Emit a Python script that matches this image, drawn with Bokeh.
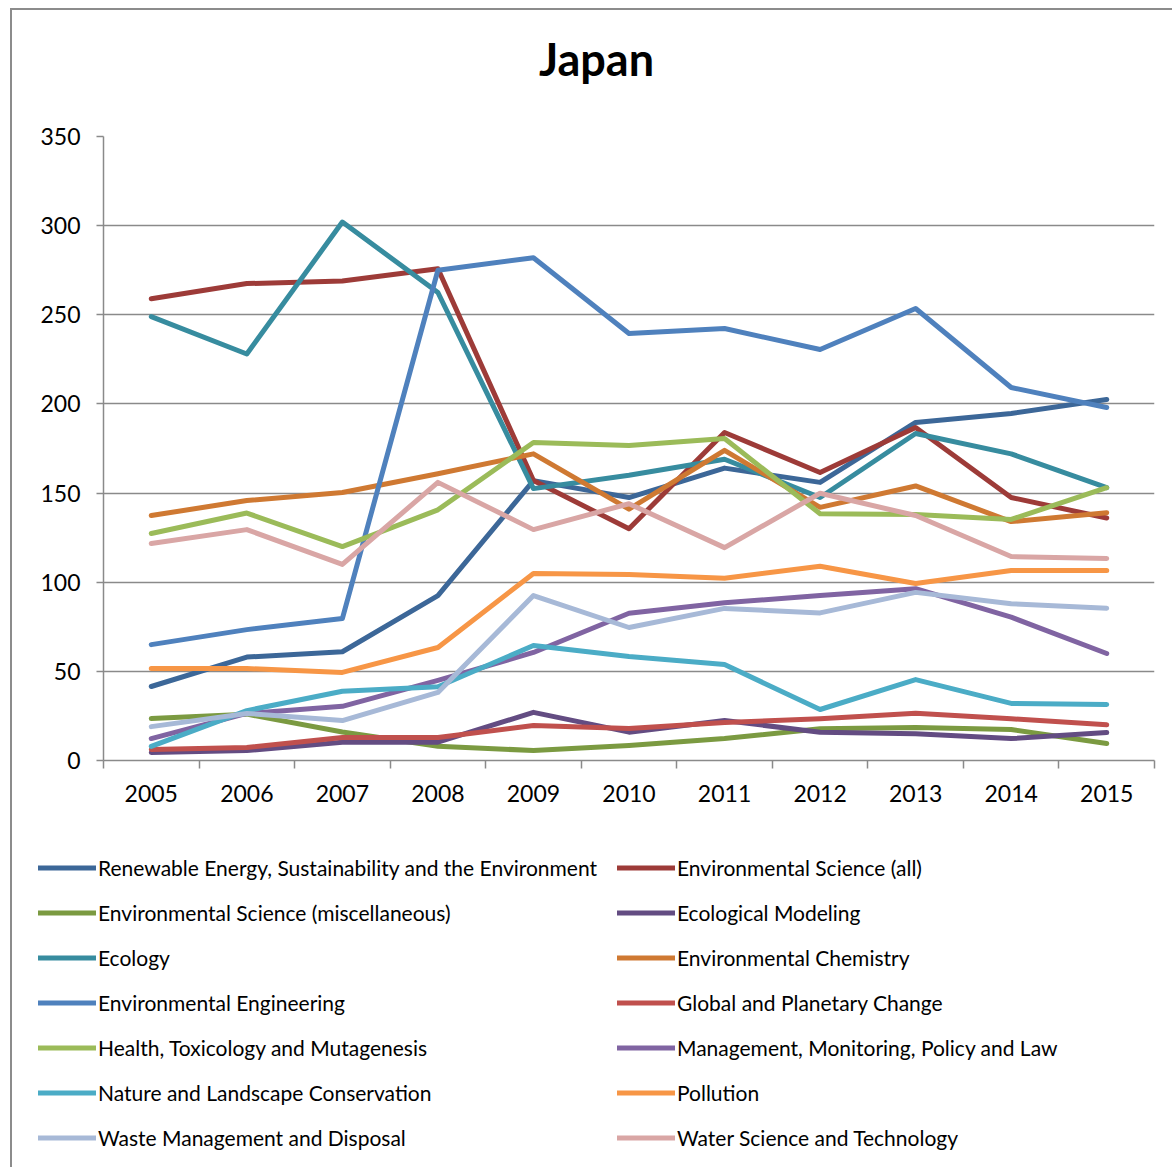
from bokeh.plotting import figure
from bokeh.models import (Range1d, FixedTicker, Legend, LegendItem, Label, ColumnDataSource)
from bokeh.embed import file_html
from bokeh.resources import INLINE

years = ["2005", "2006", "2007", "2008", "2009", "2010", "2011", "2012", "2013", "2014", "2015"]

renewable = [41.5, 58, 61, 92.5, 157, 147.5, 164, 156, 189.6, 194.6, 202.5]
env_all = [259, 267.5, 269, 275.8, 157, 130, 184, 161.5, 186.8, 147.5, 136]
env_misc = [23.5, 26, 16, 8, 5.6, 8.4, 12.3, 17.8, 18.5, 17.4, 9.5]
eco_model = [4.5, 5.6, 10.3, 10.3, 27, 15.9, 22.4, 15.9, 15, 12.3, 15.7]
ecology = [249, 228, 302, 262.5, 152.5, 160, 169, 147.5, 183.4, 172, 153]
env_chem = [137.4, 145.8, 150.3, 160.8, 172, 141, 174, 142, 154, 134, 139]
env_eng = [65, 73.4, 79.6, 275, 282, 239.5, 242.3, 230.5, 253.5, 209.2, 198]
global_change = [6.2, 7.3, 12.9, 12.9, 19.6, 17.9, 21.3, 23.4, 26.5, 23.4, 20]
health = [127.3, 138.8, 120, 140.6, 178.4, 176.7, 180.6, 138.4, 138, 135.2, 153]
management = [12.3, 26.4, 30.4, 44.9, 60.6, 82.6, 88.5, 92.5, 96.4, 80.4, 60]
nature = [7.9, 28, 38.8, 41.4, 64.5, 58.3, 53.8, 28.6, 45.4, 32, 31.4]
pollution = [51.6, 51.6, 49.4, 63.4, 104.9, 104.3, 102.2, 109, 99.3, 106.6, 106.6]
waste = [19, 26.4, 22.4, 38.2, 92.5, 74.6, 85.3, 82.8, 94.3, 87.9, 85.4]
water = [121.7, 129.5, 110, 156, 129.5, 144, 119.4, 149.9, 137.4, 114.4, 113.3]

series_names = [
    "Renewable Energy, Sustainability and the Environment",
    "Environmental Science (all)",
    "Environmental Science (miscellaneous)",
    "Ecological Modeling",
    "Ecology",
    "Environmental Chemistry",
    "Environmental Engineering",
    "Global and Planetary Change",
    "Health, Toxicology and Mutagenesis",
    "Management, Monitoring, Policy and Law",
    "Nature and Landscape Conservation",
    "Pollution",
    "Waste Management and Disposal",
    "Water Science and Technology",
]
series_values = [renewable, env_all, env_misc, eco_model, ecology, env_chem, env_eng,
                 global_change, health, management, nature, pollution, waste, water]
colors = ["#3C6798", "#9D3B38", "#7B9A41", "#634C82", "#378C9F", "#CF7932", "#4F81BD",
          "#C0504D", "#9BBB59", "#8064A2", "#4BACC6", "#F79646", "#A7B9D7", "#D9A6A5"]

FONT = "Lato"
GRID = "#8a8a8a"
BORDER = "2px solid #8c8c8c"
LW = 5

# ---- title strip (separate root) ----
tp = figure(width=1162, height=100, output_backend="svg", toolbar_location=None,
            x_axis_type=None, y_axis_type=None,
            min_border_left=0, min_border_right=0, min_border_top=0, min_border_bottom=0)
tp.outline_line_color = None
tp.grid.grid_line_color = None
tp.border_fill_color = "white"
tp.background_fill_color = "white"
tp.styles = {"margin-left": "10px", "margin-top": "8px",
             "border-left": BORDER, "border-top": BORDER}
tp.add_layout(Label(x=584, y=52, x_units="screen", y_units="screen", text="Japan",
                    text_align="center", text_baseline="alphabetic", text_font=FONT,
                    text_font_size="45px", text_font_style="bold", text_color="black"))

# ---- main chart ----
p = figure(width=1162, height=712, output_backend="svg", toolbar_location=None,
           x_range=Range1d(-0.5, len(years) - 0.5), y_range=Range1d(0, 350),
           min_border_left=91, min_border_right=20, min_border_top=28, min_border_bottom=60,
           title=None)
p.outline_line_color = None
p.background_fill_color = "white"
p.border_fill_color = "white"
p.styles = {"margin-left": "10px", "border-left": BORDER}

xs = list(range(len(years)))
sources = []
for vals, c in zip(series_values, colors):
    src = ColumnDataSource(dict(x=xs, y=vals))
    sources.append(src)
    p.line("x", "y", source=src, line_color=c, line_width=LW,
           line_cap="round", line_join="round")

# x axis
p.xaxis.ticker = FixedTicker(ticks=xs, minor_ticks=[i - 0.5 for i in range(len(years) + 1)])
p.xaxis.major_label_overrides = {i: y for i, y in enumerate(years)}
p.xaxis.major_tick_out = 0
p.xaxis.major_tick_in = 0
p.xaxis.minor_tick_out = 8
p.xaxis.minor_tick_in = 0
p.xaxis.minor_tick_line_color = GRID
p.xaxis.minor_tick_line_width = 1.5
p.xaxis.axis_line_color = GRID
p.xaxis.axis_line_width = 1.5
p.xaxis.major_label_text_font = FONT
p.xaxis.major_label_text_font_size = "23px"
p.xaxis.major_label_text_color = "black"
p.xaxis.major_label_standoff = 16

# y axis
p.yaxis.ticker = FixedTicker(ticks=[0, 50, 100, 150, 200, 250, 300, 350])
p.yaxis.major_tick_out = 7
p.yaxis.major_tick_in = 0
p.yaxis.minor_tick_line_color = None
p.yaxis.major_tick_line_color = GRID
p.yaxis.major_tick_line_width = 1.5
p.yaxis.axis_line_color = GRID
p.yaxis.axis_line_width = 1.5
p.yaxis.major_label_text_font = FONT
p.yaxis.major_label_text_font_size = "23px"
p.yaxis.major_label_text_color = "black"
p.yaxis.major_label_standoff = 16

p.xgrid.grid_line_color = None
p.ygrid.grid_line_color = GRID
p.ygrid.grid_line_width = 1.5

# ---- legend strip (separate root; its lines lie outside its ranges, only the legend shows) ----
lp = figure(width=1162, height=347, output_backend="svg", toolbar_location=None,
            x_range=Range1d(100, 101), y_range=Range1d(1000, 1001),
            x_axis_type=None, y_axis_type=None,
            min_border_left=0, min_border_right=0, min_border_top=0, min_border_bottom=0)
lp.outline_line_color = None
lp.grid.grid_line_color = None
lp.border_fill_color = "white"
lp.background_fill_color = "white"
lp.styles = {"margin-left": "10px", "border-left": BORDER}

items = []
for name, src, c in zip(series_names, sources, colors):
    r = lp.line("x", "y", source=src, line_color=c, line_width=LW,
                line_cap="round", line_join="round")
    items.append(LegendItem(label=name, renderers=[r]))

legend = Legend(items=items, location=(26, 7.5), orientation="horizontal", ncols=2,
                glyph_width=58, glyph_height=45, label_height=45, label_width=519,
                label_standoff=2, spacing=0, padding=0, margin=0,
                label_text_font=FONT, label_text_font_size="21px", label_text_color="black",
                border_line_color=None, background_fill_alpha=0)
lp.add_layout(legend, "center")

open("out.html", "w").write(file_html([tp, p, lp], INLINE))
